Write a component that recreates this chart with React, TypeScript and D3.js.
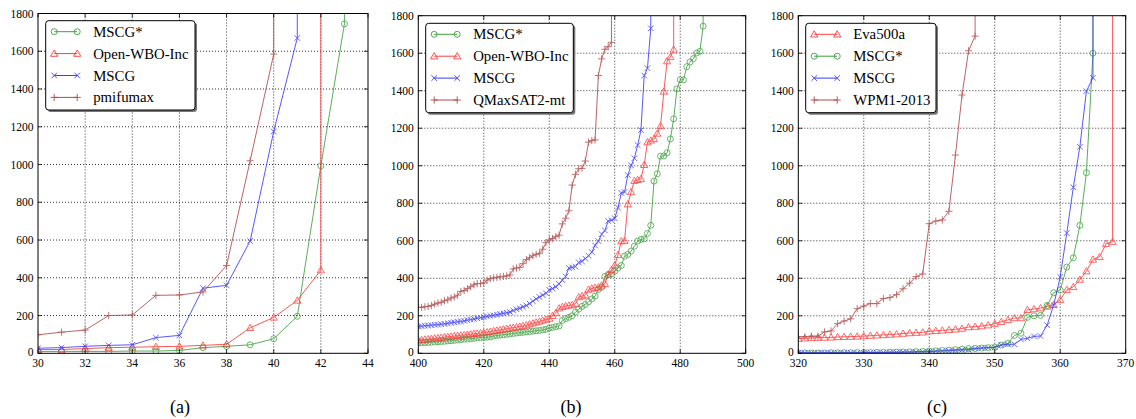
import React from "react";
import * as d3 from "d3";

// ---------- data ----------
const TIMEOUT = 3600; // unsolved -> line goes up off the chart
const yTicks = [0, 200, 400, 600, 800, 1000, 1200, 1400, 1600, 1800];

// Panel (a)
const aTicks = [30, 32, 34, 36, 38, 40, 42, 44];
const aStart = 30;
const aMSCGStar = [10, 10, 10, 10, 12, 12, 15, 30, 37, 45, 77, 196, 993, 1745];
const aOpenWBO = [20, 20, 25, 30, 32, 35, 37, 42, 48, 135, 190, 280, 440];
const aMSCG = [27, 30, 37, 42, 45, 83, 95, 345, 360, 595, 1175, 1670];
const aPmifumax = [98, 112, 123, 200, 203, 307, 309, 325, 465, 1020, 1585];

// Panel (b)
const bTicks = [400, 420, 440, 460, 480, 500];
const bStart = 400;
const bMSCGStar = [
  55, 56, 57, 58, 59, 60, 62, 63, 64, 66, 67, 69, 71, 73, 75, 76, 78, 80, 82, 84,
  85, 86, 88, 92, 95, 97, 99, 101, 103, 106, 108, 110, 112, 114, 116, 118, 120, 122, 125, 128,
  135, 138, 142, 146, 175, 185, 192, 200, 220, 235, 250, 260, 275, 290, 305, 340, 352, 410, 420, 423,
  437, 455, 468, 518, 527, 545, 571, 598, 607, 610, 639, 682, 918, 957, 1051, 1052, 1069, 1143, 1250, 1410,
  1458, 1458, 1528, 1553, 1571, 1601, 1610, 1744,
];
const bOpenWBO = [
  70, 72, 74, 76, 78, 80, 82, 84, 86, 88, 90, 92, 94, 96, 98, 100, 102, 104, 106, 108,
  110, 113, 116, 119, 122, 125, 128, 131, 134, 137, 140, 143, 146, 150, 155, 160, 165, 170, 175, 180,
  185, 200, 215, 240, 248, 252, 255, 258, 265, 300, 305, 310, 340, 346, 350, 352, 362, 370, 420, 445,
  470, 525, 598, 600, 795, 860, 920, 925, 930, 1005, 1126, 1135, 1143, 1172, 1212, 1396, 1558, 1580, 1620,
];
const bMSCG = [
  142, 145, 147, 148, 150, 152, 153, 155, 157, 160, 163, 165, 168, 170, 173, 177, 180, 183, 187, 190,
  193, 196, 200, 203, 206, 210, 213, 216, 220, 228, 235, 240, 248, 255, 265, 278, 290, 300, 310, 320,
  338, 345, 355, 370, 390, 410, 455, 458, 462, 485, 490, 505, 520, 540, 575, 598, 635, 655, 705, 710,
  720, 777, 855, 860, 950, 1002, 1040, 1110, 1190, 1481, 1520, 1733,
];
const bQMaxSAT = [
  245, 245, 248, 250, 255, 262, 268, 272, 280, 285, 295, 300, 310, 330, 335, 345, 355, 365, 372, 372,
  375, 390, 398, 402, 405, 408, 410, 412, 418, 450, 455, 458, 478, 500, 510, 520, 528, 533, 555, 590,
  605, 612, 622, 630, 690, 720, 760, 897, 954, 984, 986, 1025, 1126, 1134, 1138, 1481, 1570, 1621, 1635, 1658,
];

// Panel (c)
const cTicks = [320, 330, 340, 350, 360, 370];
const cStart = 320;
const cEva500a = [
  78, 80, 82, 83, 84, 85, 87, 88, 89, 90, 92, 94, 96, 98, 100, 102, 105, 108, 110, 112,
  118, 120, 122, 125, 128, 132, 140, 142, 145, 150, 158, 168, 178, 188, 188, 232, 236, 241, 250, 259,
  286, 339, 354, 393, 438, 500, 514, 584, 595,
];
const cMSCGStar = [
  2, 2, 2, 2, 2, 3, 3, 3, 3, 4, 4, 4, 5, 5, 6, 6, 7, 8, 9, 10,
  12, 13, 15, 17, 20, 22, 25, 26, 28, 30, 32, 44, 53, 95, 107, 192, 200, 202, 255, 323,
  337, 460, 509, 682, 963, 1600,
];
const cMSCG = [
  3, 3, 3, 3, 3, 3, 3, 3, 3, 3, 4, 4, 4, 4, 5, 5, 6, 6, 7, 8,
  9, 11, 12, 14, 16, 18, 19, 25, 28, 30, 32, 44, 48, 48, 74, 80, 90, 92, 150, 257,
  407, 641, 885, 1101, 1398, 1469,
];
const cWPM1 = [
  88, 88, 91, 91, 114, 119, 158, 172, 184, 238, 252, 265, 265, 292, 297, 313, 344, 374, 409, 423,
  691, 705, 711, 757, 1057, 1377, 1613, 1691,
];

// ---------- styles ----------
const COLORS: Record<string, string> = {
  green: "#3f9f3f",
  red: "#ff3b3b",
  blue: "#3b3bff",
  brown: "#b04a4a",
};

type Series = { name: string; color: string; marker: string; start: number; values: number[] };

const panels = [
  {
    caption: "(a)",
    captionX: 180,
    left: 38,
    right: 368,
    top: 13.5,
    bottom: 353.3,
    xDomain: [30, 44],
    xTicks: aTicks,
    legend: { x: 45.7, y: 20.7, w: 149.3, h: 89.3 },
    series: [
      { name: "MSCG*", color: COLORS.green, marker: "circle", start: aStart, values: aMSCGStar },
      { name: "Open-WBO-Inc", color: COLORS.red, marker: "triangle", start: aStart, values: aOpenWBO },
      { name: "MSCG", color: COLORS.blue, marker: "x", start: aStart, values: aMSCG },
      { name: "pmifumax", color: COLORS.brown, marker: "plus", start: aStart, values: aPmifumax },
    ] as Series[],
  },
  {
    caption: "(b)",
    captionX: 571,
    left: 418.3,
    right: 745.7,
    top: 15.7,
    bottom: 353.3,
    xDomain: [400, 500],
    xTicks: bTicks,
    legend: { x: 425.7, y: 23.3, w: 147.6, h: 89.4 },
    series: [
      { name: "MSCG*", color: COLORS.green, marker: "circle", start: bStart, values: bMSCGStar },
      { name: "Open-WBO-Inc", color: COLORS.red, marker: "triangle", start: bStart, values: bOpenWBO },
      { name: "MSCG", color: COLORS.blue, marker: "x", start: bStart, values: bMSCG },
      { name: "QMaxSAT2-mt", color: COLORS.brown, marker: "plus", start: bStart, values: bQMaxSAT },
    ] as Series[],
  },
  {
    caption: "(c)",
    captionX: 937,
    left: 798.3,
    right: 1125.7,
    top: 15.7,
    bottom: 353.3,
    xDomain: [320, 370],
    xTicks: cTicks,
    legend: { x: 805.7, y: 23.3, w: 130.3, h: 89.4 },
    series: [
      { name: "Eva500a", color: COLORS.red, marker: "triangle", start: cStart, values: cEva500a },
      { name: "MSCG*", color: COLORS.green, marker: "circle", start: cStart, values: cMSCGStar },
      { name: "MSCG", color: COLORS.blue, marker: "x", start: cStart, values: cMSCG },
      { name: "WPM1-2013", color: COLORS.brown, marker: "plus", start: cStart, values: cWPM1 },
    ] as Series[],
  },
];

const FONT = '"Liberation Serif", "Times New Roman", Times, "DejaVu Serif", "Noto Serif", serif';

function Marker({ kind, x, y, color }: { kind: string; x: number; y: number; color: string }) {
  if (kind === "circle")
    return <circle cx={x} cy={y} r={3} fill="none" stroke={color} strokeWidth={0.9} />;
  if (kind === "triangle") {
    const s = 3.6;
    return (
      <path
        d={`M${x},${y - s} L${x + s},${y + s * 0.75} L${x - s},${y + s * 0.75} Z`}
        fill="none"
        stroke={color}
        strokeWidth={0.9}
      />
    );
  }
  if (kind === "x") {
    const s = 2.8;
    return (
      <path
        d={`M${x - s},${y - s} L${x + s},${y + s} M${x - s},${y + s} L${x + s},${y - s}`}
        stroke={color}
        strokeWidth={0.9}
      />
    );
  }
  const s = 3.6;
  return <path d={`M${x - s},${y} L${x + s},${y} M${x},${y - s} L${x},${y + s}`} stroke={color} strokeWidth={0.9} />;
}

function Panel({ p, idx }: { p: (typeof panels)[number]; idx: number }) {
  const x = d3.scaleLinear().domain(p.xDomain).range([p.left, p.right]);
  const y = d3.scaleLinear().domain([0, 1800]).range([p.bottom, p.top]);
  const clipId = `clip${idx}`;
  const line = d3
    .line<[number, number]>()
    .x((d) => x(d[0]))
    .y((d) => y(d[1]));
  const L = p.legend;
  const rowGap = 21.9;
  const tstyle = { fontFamily: FONT };
  return (
    <g>
      <defs>
        <clipPath id={clipId}>
          <rect x={p.left} y={p.top} width={p.right - p.left} height={p.bottom - p.top} />
        </clipPath>
      </defs>
      <rect x={p.left} y={p.top} width={p.right - p.left} height={p.bottom - p.top} fill="white" />
      {p.xTicks.slice(1, -1).map((t) => (
        <line key={"gx" + t} x1={x(t)} x2={x(t)} y1={p.top} y2={p.bottom} stroke="black" strokeWidth={0.8} strokeDasharray="1,2" />
      ))}
      {yTicks.slice(1, -1).map((t) => (
        <line key={"gy" + t} x1={p.left} x2={p.right} y1={y(t)} y2={y(t)} stroke="black" strokeWidth={0.8} strokeDasharray="1,2" />
      ))}
      <g clipPath={`url(#${clipId})`}>
        {p.series.map((s) => {
          const pts: [number, number][] = s.values.map((v, i) => [s.start + i, v]);
          const last = pts[pts.length - 1];
          const full: [number, number][] = [...pts, [last[0], TIMEOUT]];
          return (
            <g key={s.name} opacity={0.85}>
              <path d={line(full) || ""} fill="none" stroke={s.color} strokeWidth={1} />
              {pts.map((d, i) => (
                <Marker key={i} kind={s.marker} x={x(d[0])} y={y(d[1])} color={s.color} />
              ))}
            </g>
          );
        })}
      </g>
      <rect x={p.left} y={p.top} width={p.right - p.left} height={p.bottom - p.top} fill="none" stroke="black" strokeWidth={1} />
      {p.xTicks.map((t) => (
        <g key={"tx" + t}>
          <line x1={x(t)} x2={x(t)} y1={p.bottom} y2={p.bottom - 4} stroke="black" strokeWidth={0.8} />
          <line x1={x(t)} x2={x(t)} y1={p.top} y2={p.top + 4} stroke="black" strokeWidth={0.8} />
          <text x={x(t)} y={p.bottom + 14} textAnchor="middle" fontSize={11.5} style={tstyle}>
            {t}
          </text>
        </g>
      ))}
      {yTicks.map((t) => (
        <g key={"ty" + t}>
          <line x1={p.left} x2={p.left + 4} y1={y(t)} y2={y(t)} stroke="black" strokeWidth={0.8} />
          <line x1={p.right} x2={p.right - 4} y1={y(t)} y2={y(t)} stroke="black" strokeWidth={0.8} />
          <text x={p.left - 4.5} y={y(t) + (t === 0 ? 3 : 4)} textAnchor="end" fontSize={11.5} style={tstyle}>
            {t}
          </text>
        </g>
      ))}
      <rect x={L.x + 2} y={L.y + 2} width={L.w} height={L.h} rx={3} fill="#777" />
      <rect x={L.x} y={L.y} width={L.w} height={L.h} rx={3} fill="white" stroke="black" strokeWidth={1} />
      {p.series.map((s, i) => {
        const ry = L.y + 11 + i * rowGap;
        return (
          <g key={"lg" + s.name}>
            <line x1={L.x + 8.5} x2={L.x + 31.5} y1={ry} y2={ry} stroke={s.color} strokeWidth={1} />
            <Marker kind={s.marker} x={L.x + 8.5} y={ry} color={s.color} />
            <Marker kind={s.marker} x={L.x + 31.5} y={ry} color={s.color} />
            <text x={L.x + 47.5} y={ry + 5} fontSize={14.8} style={tstyle}>
              {s.name}
            </text>
          </g>
        );
      })}
      <text x={p.captionX} y={413} textAnchor="middle" fontSize={18} style={tstyle}>
        {p.caption}
      </text>
    </g>
  );
}

export default function App() {
  return (
    <div style={{ position: "absolute", left: 0, top: 0 }}>
      <svg width={1136} height={419} style={{ display: "block", background: "white" }}>
        {panels.map((p, i) => (
          <Panel key={i} p={p} idx={i} />
        ))}
      </svg>
    </div>
  );
}
